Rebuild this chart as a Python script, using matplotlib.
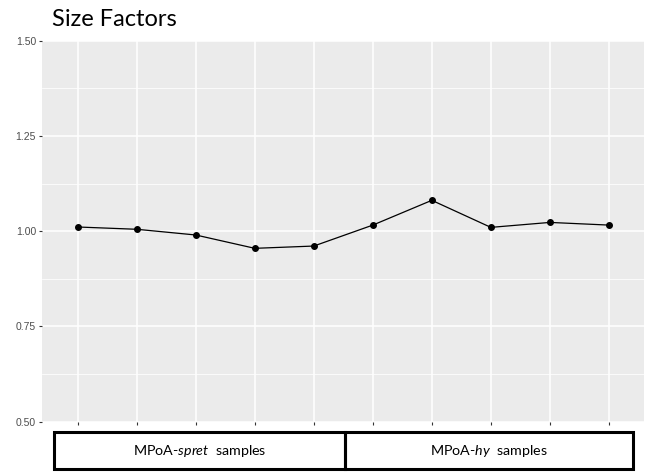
import matplotlib
matplotlib.use("Agg")
import matplotlib.pyplot as plt
import matplotlib.transforms as mtransforms
from matplotlib.patches import Rectangle

plt.rcParams["mathtext.fontset"] = "custom"
plt.rcParams["mathtext.rm"] = "Lato"
plt.rcParams["mathtext.it"] = "Lato:italic"

# DESeq2 size factors per sample
samples = ["spret_1", "spret_2", "spret_3", "spret_4", "spret_5",
           "hy_1", "hy_2", "hy_3", "hy_4", "hy_5"]
size_factors = [1.011, 1.005, 0.990, 0.955, 0.961,
                1.016, 1.081, 1.010, 1.023, 1.016]
y_ticks = [0.50, 0.75, 1.00, 1.25, 1.50]
y_minor = [0.625, 0.875, 1.125, 1.375]
groups = [r"MPoA-$\mathit{spret}$  samples", r"MPoA-$\mathit{hy}$  samples"]

fig = plt.figure(figsize=(6.48, 4.72), dpi=100)
ax = fig.add_axes([0.0653, 0.1066, 0.929, 0.8072])
ax.set_facecolor("#EBEBEB")

x = list(range(len(samples)))
ax.plot(x, size_factors, color="black", lw=0.9, zorder=3)
ax.scatter(x, size_factors, color="black", s=16, zorder=4)

ax.set_xlim(-0.6, len(samples) - 0.4)
ax.set_ylim(0.5, 1.5)
ax.set_xticks(x)
ax.set_xticklabels([""] * len(samples))
ax.set_yticks(y_ticks)
ax.set_yticklabels([f"{v:.2f}" for v in y_ticks], family="Liberation Sans")
ax.set_yticks(y_minor, minor=True)

ax.grid(which="major", color="white", lw=1.1)
ax.grid(which="minor", axis="y", color="white", lw=0.55)
ax.set_axisbelow(True)
for s in ax.spines.values():
    s.set_visible(False)
ax.tick_params(axis="both", which="major", length=2.5, width=0.8,
               color="#333333", labelcolor="#4D4D4D", labelsize=7.5, pad=2)
ax.tick_params(which="minor", length=0)

fig.text(0.080, 0.945, "Size Factors", fontsize=17, family="Lato",
         ha="left", va="baseline")

# Group boxes under the panel, aligned to the sample positions
trans = mtransforms.blended_transform_factory(ax.transData, fig.transFigure)
edges = [-0.394, 4.53, 9.40]
y0, y1 = 0.0053, 0.0858
for i, label in enumerate(groups):
    rect = Rectangle((edges[i], y0), edges[i + 1] - edges[i], y1 - y0,
                     transform=trans, fill=False, edgecolor="black",
                     lw=2.2, clip_on=False)
    fig.add_artist(rect)
    fig.text((edges[i] + edges[i + 1]) / 2, (y0 + y1) / 2, label,
             transform=trans, ha="center", va="center",
             fontsize=10.3, family="Lato")

fig.savefig("out.png", dpi=100)
